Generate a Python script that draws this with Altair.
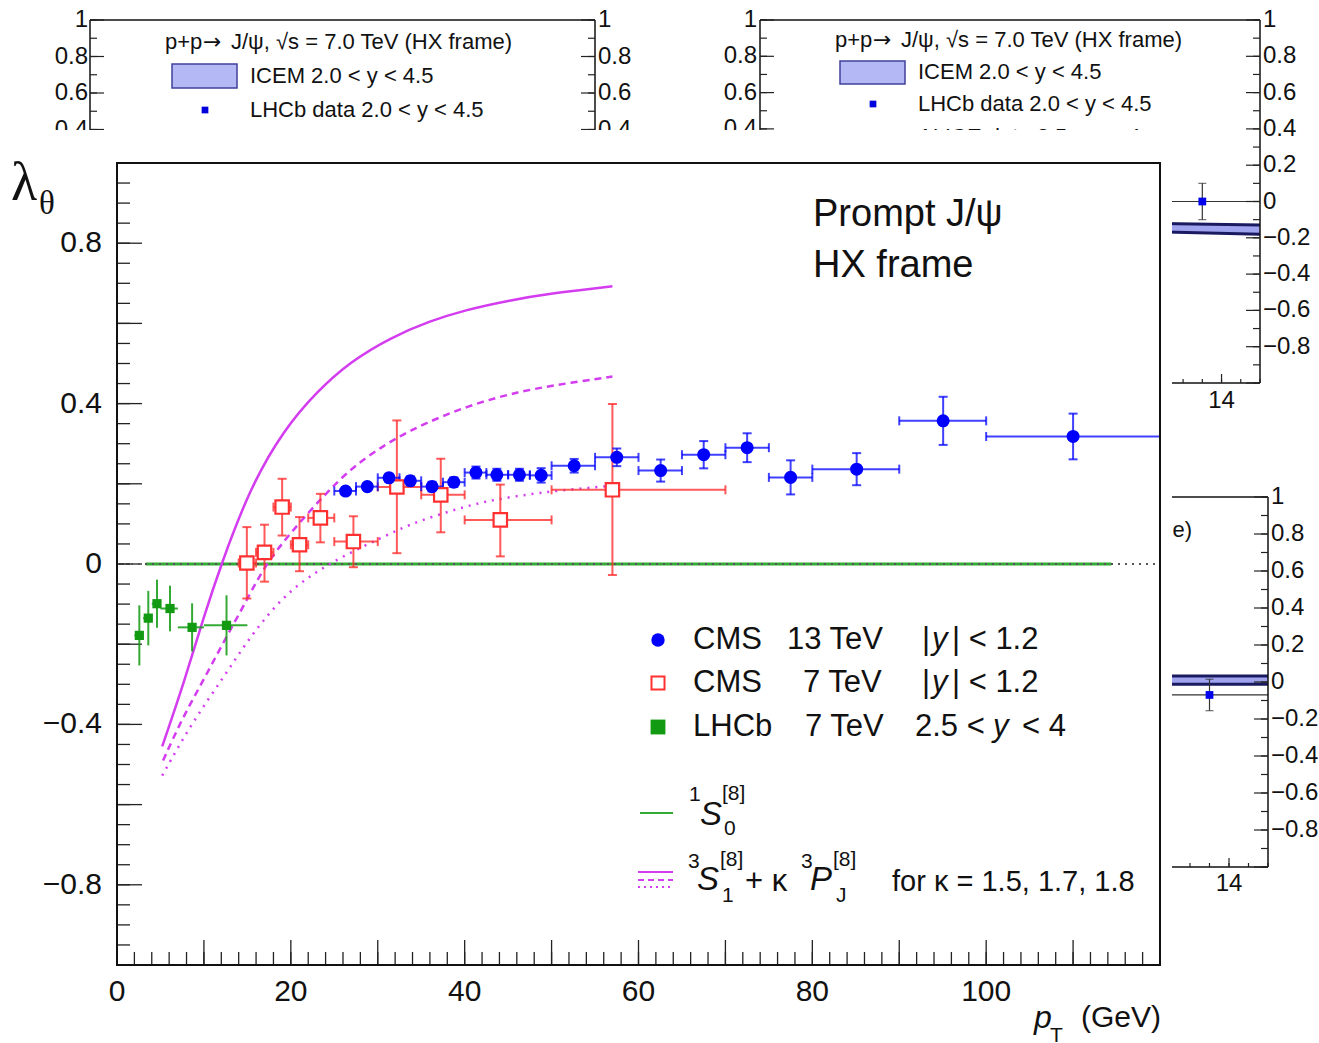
import altair as alt
import pandas as pd

W, H = 1043, 802
OX, OY = 117, 163
SANS = "Liberation Sans"
SERIF = "Liberation Serif"

BLUE = "#0000ff"
RED = "#ff3030"
GREEN = "#129a12"
GREEN_LINE = "#33aa33"
MAGENTA = "#d43cf0"
INK = "#111111"

# ---------------- data ----------------
lhcb_x = [2.57, 3.6, 4.6, 6.1, 8.64, 12.6]
lhcb_xlo = [2, 3, 4, 5, 7, 10]
lhcb_xhi = [3, 4, 5, 7, 10, 15]
lhcb_y = [-0.178, -0.135, -0.099, -0.111, -0.158, -0.153]
lhcb_err = [0.075, 0.068, 0.06, 0.057, 0.06, 0.075]

cms7_x = [14.94, 16.97, 19.0, 21.0, 23.4, 27.2, 32.2, 37.25, 44.1, 57.0]
cms7_xlo = [14, 16, 18, 20, 22, 25, 30, 35, 40, 50]
cms7_xhi = [16, 18, 20, 22, 25, 30, 35, 40, 50, 70]
cms7_y = [0.0025, 0.029, 0.142, 0.048, 0.115, 0.056, 0.192, 0.1725, 0.11, 0.185]
cms7_ylo = [-0.086, -0.044, 0.071, -0.018, 0.054, -0.008, 0.027, 0.079, 0.019, -0.0275]
cms7_yhi = [0.092, 0.098, 0.2125, 0.117, 0.175, 0.119, 0.358, 0.2625, 0.198, 0.399]

cms13_x = [26.3, 28.8, 31.3, 33.75, 36.25, 38.75, 41.3, 43.7, 46.3, 48.8,
           52.6, 57.5, 62.55, 67.5, 72.5, 77.5, 85.1, 95.05, 110.0]
cms13_xlo = [25, 27.5, 30, 32.5, 35, 37.5, 40, 42.5, 45, 47.5,
             50, 55, 60, 65, 70, 75, 80, 90, 100]
cms13_xhi = [27.5, 30, 32.5, 35, 37.5, 40, 42.5, 45, 47.5, 50,
             55, 60, 65, 70, 75, 80, 90, 100, 120]
cms13_y = [0.182, 0.193, 0.215, 0.2075, 0.193, 0.204, 0.228, 0.2225, 0.2225, 0.221,
           0.245, 0.266, 0.233, 0.2725, 0.29, 0.216, 0.2365, 0.357, 0.318]
cms13_err = [0.008, 0.009, 0.01, 0.011, 0.012, 0.012, 0.015, 0.015, 0.015, 0.018,
             0.017, 0.022, 0.0275, 0.034, 0.036, 0.0425, 0.04, 0.06, 0.057]

k15_x = [5.2, 7.8, 10, 12, 15.3, 19.2, 23, 26.8, 31.5, 36, 40, 45, 50, 57]
k15_y = [-0.455, -0.29, -0.13, 0.0, 0.19, 0.335, 0.43, 0.504, 0.565, 0.606, 0.633, 0.657, 0.675, 0.6925]
k17_x = [5.3, 7.5, 10, 12.5, 15, 17, 20, 23.8, 27, 30.7, 33.75, 37.5, 41.8, 46, 50, 57]
k17_y = [-0.49, -0.385, -0.2875, -0.185, -0.0875, -0.004, 0.079, 0.171, 0.24, 0.296,
         0.333, 0.37, 0.404, 0.428, 0.445, 0.4675]
k18_x = [5.2, 8.5, 12.25, 15.5, 19.2, 22.5, 26.1, 30.3, 33.75, 38, 42, 46.4, 51, 57]
k18_y = [-0.5275, -0.4, -0.283, -0.175, -0.079, -0.025, 0.021, 0.064, 0.1, 0.13,
         0.155, 0.171, 0.184, 0.195]

s0_x = [3.3, 114.4]
s0_y = [0.0, 0.0]
ref_x = [0, 120]
ref_y = [0.0, 0.0]

x_labels = [0, 20, 40, 60, 80, 100]
y_labels = [0.8, 0.4, 0.0, -0.4, -0.8]
y_label_text = ["0.8", "0.4", "0", "\u22120.4", "\u22120.8"]

# background panels (partly hidden)
panel_y_vals = [1.0, 0.8, 0.6, 0.4, 0.2, 0.0, -0.2, -0.4, -0.6, -0.8]
panel_y_text = ["1", "0.8", "0.6", "0.4", "0.2", "0", "\u22120.2", "\u22120.4", "\u22120.6", "\u22120.8"]
panel_x_vals = [2, 4, 6, 8, 10, 12, 14]
panel_x_text = ["2", "4", "6", "8", "10", "12", "14"]

pB_x, pB_y, pB_err, pB_xlo, pB_xhi = [13.5], [0.0], [0.1], [12], [15]
bandB_x, bandB_lo, bandB_hi = [12, 15], [-0.165, -0.18], [-0.12, -0.13]
pC_x, pC_y, pC_err, pC_xlo, pC_xhi = [13.5], [-0.07], [0.085], [12], [15]
bandC_x, bandC_lo, bandC_hi = [12, 15], [-0.012, -0.012], [0.032, 0.032]

TITLE = "p+p\u2192 J/\u03c8, \u221as = 7.0 TeV (HX frame)"
TITLE_REST = "J/\u03c8, \u221as = 7.0 TeV (HX frame)"

# ---------------- helpers ----------------
DUMMY = pd.DataFrame({"d": [0]})


def txt(px, py, s, size=30, align="left", italic=False, font=SANS, color=INK):
    return alt.Chart(DUMMY).mark_text(
        text=s, align=align, baseline="middle", fontSize=size, font=font,
        fontStyle="italic" if italic else "normal", color=color
    ).encode(x=alt.value(px - OX), y=alt.value(py - OY))


def seg(x1, y1, x2, y2, color=INK, width=1.5, dash=()):
    m = dict(color=color, strokeWidth=width)
    if dash:
        m["strokeDash"] = list(dash)
    return alt.Chart(DUMMY).mark_rule(**m).encode(
        x=alt.value(x1 - OX), x2=alt.value(x2 - OX),
        y=alt.value(y1 - OY), y2=alt.value(y2 - OY))


def box(x1, y1, x2, y2, fill, stroke, width=1.5):
    return alt.Chart(DUMMY).mark_rect(fill=fill, stroke=stroke, strokeWidth=width).encode(
        x=alt.value(x1 - OX), x2=alt.value(x2 - OX),
        y=alt.value(y1 - OY), y2=alt.value(y2 - OY))


def sym(px, py, shape, size, fill, stroke=None, sw=0):
    kw = dict(shape=shape, size=size, filled=True, fill=fill, opacity=1)
    if stroke:
        kw["stroke"] = stroke
        kw["strokeWidth"] = sw
    return alt.Chart(DUMMY).mark_point(**kw).encode(
        x=alt.value(px - OX), y=alt.value(py - OY))


def Xq(f, sc):
    return alt.X(f, type="quantitative", scale=sc, axis=None)


def Yq(f, sc):
    return alt.Y(f, type="quantitative", scale=sc, axis=None)


def yticks(sy, axis_px, sign, vals, length, width=1.2):
    df = pd.DataFrame({"v": vals})
    return alt.Chart(df).mark_rule(color="#222", strokeWidth=width).encode(
        y=Yq("v", sy), x=alt.value(axis_px - OX), x2=alt.value(axis_px - OX + sign * length))


def xticks(sx, axis_py, vals, length, width=1.2):
    df = pd.DataFrame({"v": vals})
    return alt.Chart(df).mark_rule(color="#222", strokeWidth=width).encode(
        x=Xq("v", sx), y=alt.value(axis_py - OY), y2=alt.value(axis_py - OY - length))


def ylabels(sy, px, align, vals, labels, size=24):
    df = pd.DataFrame({"v": vals, "t": labels})
    return alt.Chart(df).mark_text(align=align, baseline="middle", fontSize=size,
                                   font=SANS, color=INK).encode(
        y=Yq("v", sy), x=alt.value(px - OX), text="t:N")


def xlabels(sx, py, vals, labels, size=24):
    df = pd.DataFrame({"v": vals, "t": labels})
    return alt.Chart(df).mark_text(align="center", baseline="middle", fontSize=size,
                                   font=SANS, color=INK).encode(
        x=Xq("v", sx), y=alt.value(py - OY), text="t:N")


def title_pieces(px, py):
    return [
        txt(px, py, "p+p", 22),
        txt(px + 38, py, "\u2192", 22, font="DejaVu Sans"),
        txt(px + 66, py, TITLE_REST, 22),
    ]


p_minor = [round(-1 + 0.1 * i, 2) for i in range(21)]
p_major = [round(-1 + 0.2 * i, 2) for i in range(11)]
px_minor = [2 + 0.5 * i for i in range(27)]

# ---------------- panel A (top left) ----------------
SAY = alt.Scale(domain=[-1, 1], range=[385 - OY, 20 - OY], nice=False, zero=False)
panelA = alt.layer(
    seg(90, 20, 595, 20), seg(90, 20, 90, 385), seg(595, 20, 595, 385),
    yticks(SAY, 90, 1, p_minor, 7), yticks(SAY, 90, 1, p_major, 14),
    yticks(SAY, 595, -1, p_minor, 7), yticks(SAY, 595, -1, p_major, 14),
    ylabels(SAY, 88, "right", panel_y_vals, panel_y_text),
    ylabels(SAY, 598, "left", panel_y_vals, panel_y_text),
    *title_pieces(165, 42),
    box(172, 64, 237, 88, "#b4b8f4", "#40409a"),
    txt(250, 76, "ICEM 2.0 < y < 4.5", 22),
    sym(205, 110, "square", 45, "#0000dd"),
    txt(250, 110, "LHCb data 2.0 < y < 4.5", 22),
)

# ---------------- panel B (top right) ----------------
SBX = alt.Scale(domain=[2, 15], range=[760 - OX, 1260 - OX], nice=False, zero=False)
SBY = alt.Scale(domain=[-1, 1], range=[383 - OY, 20 - OY], nice=False, zero=False)
dfB = pd.DataFrame({"x": pB_x, "y": pB_y, "xlo": pB_xlo, "xhi": pB_xhi,
                    "ylo": [a - b for a, b in zip(pB_y, pB_err)],
                    "yhi": [a + b for a, b in zip(pB_y, pB_err)]})
dfBb = pd.DataFrame({"x": bandB_x, "lo": bandB_lo, "hi": bandB_hi})


def panel_data(df, dfb, sx, sy):
    return [
        alt.Chart(dfb).mark_area(color="#a0a4ee", opacity=1).encode(
            x=Xq("x", sx), y=Yq("lo", sy), y2=alt.Y2("hi")),
        alt.Chart(dfb).mark_line(color="#1a1a60", strokeWidth=3).encode(x=Xq("x", sx), y=Yq("lo", sy)),
        alt.Chart(dfb).mark_line(color="#1a1a60", strokeWidth=3).encode(x=Xq("x", sx), y=Yq("hi", sy)),
        alt.Chart(df).mark_rule(color="#333", strokeWidth=1.2).encode(
            x=Xq("xlo", sx), x2=alt.X2("xhi"), y=Yq("y", sy)),
        alt.Chart(df).mark_rule(color="#333", strokeWidth=1.2).encode(
            x=Xq("x", sx), y=Yq("ylo", sy), y2=alt.Y2("yhi")),
        alt.Chart(df).mark_tick(orient="horizontal", size=8, thickness=1.2, color="#333").encode(
            x=Xq("x", sx), y=Yq("ylo", sy)),
        alt.Chart(df).mark_tick(orient="horizontal", size=8, thickness=1.2, color="#333").encode(
            x=Xq("x", sx), y=Yq("yhi", sy)),
        alt.Chart(df).mark_point(shape="square", filled=True, size=60, color="#0000ee", opacity=1).encode(
            x=Xq("x", sx), y=Yq("y", sy)),
    ]


panelB = alt.layer(
    *panel_data(dfB, dfBb, SBX, SBY),
    seg(760, 20, 1260, 20), seg(760, 20, 760, 383), seg(1260, 20, 1260, 383), seg(760, 383, 1260, 383),
    yticks(SBY, 760, 1, p_minor, 7), yticks(SBY, 760, 1, p_major, 14),
    yticks(SBY, 1260, -1, p_minor, 7), yticks(SBY, 1260, -1, p_major, 14),
    xticks(SBX, 383, px_minor, 4), xticks(SBX, 383, panel_x_vals, 9),
    ylabels(SBY, 757, "right", panel_y_vals, panel_y_text),
    ylabels(SBY, 1263, "left", panel_y_vals, panel_y_text),
    xlabels(SBX, 401, panel_x_vals, panel_x_text),
    *title_pieces(835, 40),
    box(840, 61, 905, 84, "#b4b8f4", "#40409a"),
    txt(918, 72, "ICEM 2.0 < y < 4.5", 22),
    sym(873, 104, "square", 45, "#0000dd"),
    txt(918, 104, "LHCb data 2.0 < y < 4.5", 22),
    txt(918, 137, "ALICE data 2.5 < y < 4", 22),
)

# ---------------- panel C (lower right) ----------------
SCX = alt.Scale(domain=[2, 15], range=[761 - OX, 1268 - OX], nice=False, zero=False)
SCY = alt.Scale(domain=[-1, 1], range=[867 - OY, 497 - OY], nice=False, zero=False)
dfC = pd.DataFrame({"x": pC_x, "y": pC_y, "xlo": pC_xlo, "xhi": pC_xhi,
                    "ylo": [a - b for a, b in zip(pC_y, pC_err)],
                    "yhi": [a + b for a, b in zip(pC_y, pC_err)]})
dfCb = pd.DataFrame({"x": bandC_x, "lo": bandC_lo, "hi": bandC_hi})

panelC = alt.layer(
    *panel_data(dfC, dfCb, SCX, SCY),
    seg(761, 497, 1268, 497), seg(1268, 497, 1268, 867), seg(761, 867, 1268, 867),
    yticks(SCY, 1268, -1, p_minor, 7), yticks(SCY, 1268, -1, p_major, 14),
    xticks(SCX, 867, px_minor, 4), xticks(SCX, 867, panel_x_vals, 9),
    ylabels(SCY, 1271, "left", panel_y_vals, panel_y_text),
    xlabels(SCX, 884, panel_x_vals, panel_x_text),
    txt(1192, 530, TITLE, 22, align="right"),
)

# white sheet of the front figure
white = box(0, 130, 1172, 1043, "white", "white", 0)

# ---------------- main chart ----------------
SX = alt.Scale(domain=[0, 120], nice=False, zero=False)
SY = alt.Scale(domain=[-1, 1], nice=False, zero=False)


def frame_df(x, y, xlo, xhi, ylo, yhi):
    return pd.DataFrame({"x": x, "y": y, "xlo": xlo, "xhi": xhi, "ylo": ylo, "yhi": yhi})


df_lhcb = frame_df(lhcb_x, lhcb_y, lhcb_xlo, lhcb_xhi,
                   [a - b for a, b in zip(lhcb_y, lhcb_err)],
                   [a + b for a, b in zip(lhcb_y, lhcb_err)])
df_c7 = frame_df(cms7_x, cms7_y, cms7_xlo, cms7_xhi, cms7_ylo, cms7_yhi)
df_c13 = frame_df(cms13_x, cms13_y, cms13_xlo, cms13_xhi,
                  [a - b for a, b in zip(cms13_y, cms13_err)],
                  [a + b for a, b in zip(cms13_y, cms13_err)])


def errbars(df, color, width=2, caps=True, cap=9, opacity=0.85):
    L = [
        alt.Chart(df).mark_rule(color=color, strokeWidth=width, opacity=opacity).encode(
            x=Xq("xlo", SX), x2=alt.X2("xhi"), y=Yq("y", SY)),
        alt.Chart(df).mark_rule(color=color, strokeWidth=width, opacity=opacity).encode(
            x=Xq("x", SX), y=Yq("ylo", SY), y2=alt.Y2("yhi")),
    ]
    if caps:
        for f in ("xlo", "xhi"):
            L.append(alt.Chart(df).mark_tick(orient="vertical", size=cap, thickness=width,
                                             color=color, opacity=opacity).encode(
                x=Xq(f, SX), y=Yq("y", SY)))
        for f in ("ylo", "yhi"):
            L.append(alt.Chart(df).mark_tick(orient="horizontal", size=cap, thickness=width,
                                             color=color, opacity=opacity).encode(
                x=Xq("x", SX), y=Yq(f, SY)))
    return L


def curve(xs, ys, color, width, dash=(), interp="basis"):
    m = dict(color=color, strokeWidth=width, interpolate=interp)
    if dash:
        m["strokeDash"] = list(dash)
    return alt.Chart(pd.DataFrame({"x": xs, "y": ys})).mark_line(**m).encode(
        x=Xq("x", SX), y=Yq("y", SY))


mx_minor = list(range(0, 121, 2))
mx_major = list(range(0, 121, 10))
my_minor = [round(-1 + 0.05 * i, 3) for i in range(41)]
my_major = [round(-1 + 0.2 * i, 2) for i in range(11)]

main_layers = [
    # ticks inside the frame
    xticks(SX, 965, mx_minor, 13, 1.3), xticks(SX, 965, mx_major, 25, 1.3),
    yticks(SY, 117, 1, my_minor, 13, 1.3), yticks(SY, 117, 1, my_major, 25, 1.3),
    # 1S0 line and reference
    curve(s0_x, s0_y, GREEN_LINE, 3, interp="linear"),
    curve(ref_x, ref_y, "#555555", 2, (2, 5), interp="linear"),
    # model curves
    curve(k15_x, k15_y, MAGENTA, 2.5),
    curve(k17_x, k17_y, MAGENTA, 2.5, (7, 5)),
    curve(k18_x, k18_y, MAGENTA, 2.5, (2, 6)),
]
main_layers += errbars(df_lhcb, GREEN, 2, caps=False)
main_layers += errbars(df_c7, RED, 2, caps=True, cap=9, opacity=0.8)
main_layers += errbars(df_c13, BLUE, 2, caps=True, cap=9, opacity=0.75)
main_layers += [
    alt.Chart(df_lhcb).mark_point(shape="square", filled=True, size=85, color=GREEN, opacity=1).encode(
        x=Xq("x", SX), y=Yq("y", SY)),
    alt.Chart(df_c7).mark_point(shape="square", filled=True, size=180, fill="white", stroke=RED,
                                strokeWidth=2.2, opacity=1).encode(x=Xq("x", SX), y=Yq("y", SY)),
    alt.Chart(df_c13).mark_point(shape="circle", filled=True, size=170, color=BLUE, opacity=1).encode(
        x=Xq("x", SX), y=Yq("y", SY)),
    # axis labels
    xlabels(SX, 992, x_labels, [str(v) for v in x_labels], 30),
    ylabels(SY, 102, "right", y_labels, y_label_text, 30),
    # frame
    box(117, 163, 1160, 965, "transparent", "#111111", 2),
    # titles
    txt(11, 184, "\u03bb", 54, font=SERIF),
    txt(39, 204, "\u03b8", 33, font=SERIF),
    txt(1034, 1018, "p", 32, italic=True),
    txt(1050, 1036, "T", 21),
    txt(1081, 1018, "(GeV)", 30),
    txt(813, 215, "Prompt J/\u03c8", 38),
    txt(813, 266, "HX frame", 38),
    # legend
    sym(658, 640, "circle", 180, BLUE),
    sym(658, 683, "square", 170, "white", RED, 2),
    sym(658, 727, "square", 220, GREEN),
    txt(693, 640, "CMS", 31), txt(787, 640, "13 TeV", 31),
    txt(922, 640, "|", 31), txt(932, 640, "y", 31, italic=True), txt(952, 640, "| < 1.2", 31),
    txt(693, 683, "CMS", 31), txt(803, 683, "7 TeV", 31),
    txt(922, 683, "|", 31), txt(932, 683, "y", 31, italic=True), txt(952, 683, "| < 1.2", 31),
    txt(693, 727, "LHCb", 31), txt(805, 727, "7 TeV", 31),
    txt(915, 727, "2.5 <", 31), txt(993, 727, "y", 31, italic=True), txt(1022, 727, "< 4", 31),
    seg(640, 813, 673, 813, GREEN_LINE, 2),
    txt(689, 795, "1", 21), txt(700, 815, "S", 33, italic=True),
    txt(722, 794, "[8]", 21), txt(724, 829, "0", 21),
    seg(638, 872, 673, 872, MAGENTA, 2),
    seg(638, 880, 673, 880, MAGENTA, 2, (6, 4)),
    seg(638, 887, 673, 887, MAGENTA, 2, (2, 4)),
    txt(688, 862, "3", 21), txt(697, 880, "S", 33, italic=True),
    txt(720, 860, "[8]", 21), txt(722, 896, "1", 21),
    txt(745, 882, "+ \u03ba", 31),
    txt(801, 862, "3", 21), txt(810, 880, "P", 33, italic=True),
    txt(833, 860, "[8]", 21), txt(836, 896, "J", 21),
    txt(892, 882, "for \u03ba = 1.5, 1.7, 1.8", 29),
]
main = alt.layer(*main_layers)

chart = alt.layer(panelA, panelB, panelC, white, main).resolve_scale(
    x="independent", y="independent"
).properties(
    width=W, height=H,
    padding={"left": OX, "top": OY, "right": 1319 - OX - W, "bottom": 1043 - OY - H},
    autosize=alt.AutoSizeParams(type="none"),
).configure_view(strokeWidth=0).configure(background="white")

chart.save("out.html", embed_options={"renderer": "svg", "actions": False})
